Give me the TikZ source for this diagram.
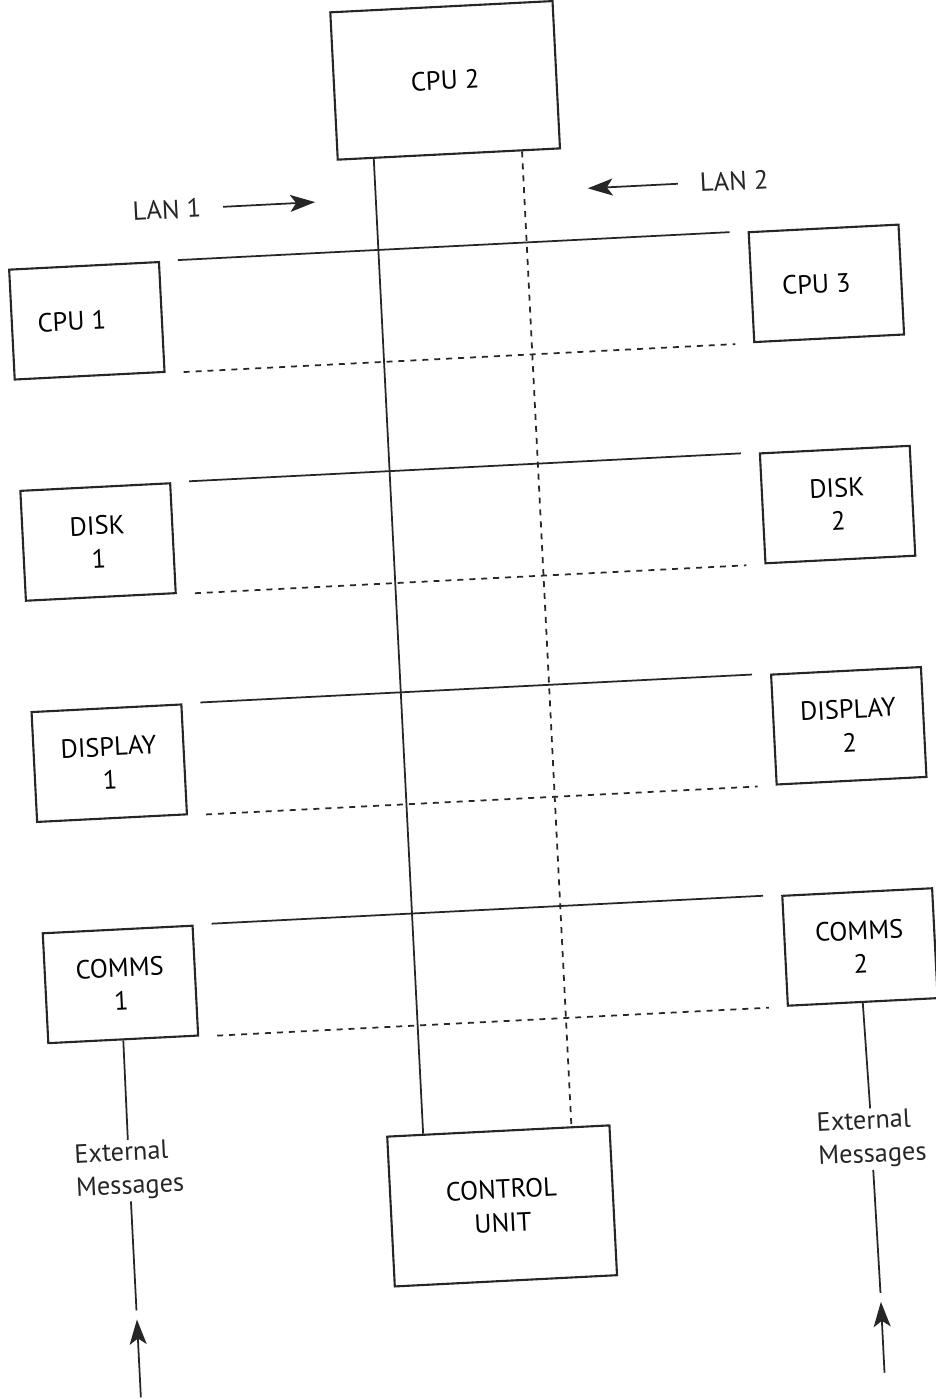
\documentclass[tikz,border=0pt]{standalone}
\usepackage{fontspec}
\setmainfont{PT Sans}
\usetikzlibrary{arrows.meta,calc}

\begin{document}
\begin{tikzpicture}[
  unit/.style={draw=black!85,line width=1.2pt,inner sep=0pt,align=center,minimum width=3cm,minimum height=2.2cm,font=\fontsize{15}{19}\selectfont},
  bigunit/.style={unit,minimum width=4.45cm,minimum height=2.95cm},
  lanA/.style={draw=black!85,line width=1pt},
  lanB/.style={lanA,dash pattern=on 3.4pt off 3.4pt},
  note/.style={font=\fontsize{15}{19}\selectfont,text=black!85,inner sep=1pt},
  pointer/.style={lanA,-{Stealth[length=5mm,width=3.4mm,inset=1.2mm]}},
]
\useasboundingbox (-9.36,-13.98) rectangle (9.34,14.0);

\begin{scope}[rotate=2.9,transform shape]
% central processor and control unit
\node[bigunit] (cpu2) at (0.17,12.4) {CPU 2};
\node[bigunit,minimum height=3cm] (ctrl) at (0.17,-10.14) {CONTROL\\UNIT};

% stations on both sides
\node[unit] (cpu1)   at (-7.23,7.96)  {CPU 1\hspace*{6mm}};
\node[unit] (disk1)  at (-7.23,3.53)  {DISK\\1};
\node[unit] (disp1)  at (-7.23,-0.90) {DISPLAY\\1};
\node[unit] (comms1) at (-7.23,-5.33) {COMMS\\1};
\node[unit] (cpu3)   at (7.58,7.96)   {CPU 3\hspace*{4mm}};
\node[unit] (disk2)  at (7.58,3.53)   {DISK\\2};
\node[unit] (disp2)  at (7.58,-0.90)  {DISPLAY\\2};
\node[unit] (comms2) at (7.58,-5.33)  {COMMS\\2};

% the two LAN trunks
\draw[lanA] ($(cpu2.south west)!0.165!(cpu2.south east)$) -- ($(ctrl.north west)!0.165!(ctrl.north east)$);
\draw[lanB] ($(cpu2.south west)!0.826!(cpu2.south east)$) -- ($(ctrl.north west)!0.826!(ctrl.north east)$);
\foreach \l/\r in {cpu1/cpu3,disk1/disk2,disp1/disp2,comms1/comms2} {
  \draw[lanA,shorten <=3.6mm,shorten >=3.6mm] (\l.north east) -- (\r.north west);
  \draw[lanB,shorten <=3.6mm,shorten >=3.6mm] (\l.south east) -- (\r.south west);
}

\node[note] (lan1) at (-5.52,10.1) {LAN 1};
\node[note] (lan2) at (5.84,10.1) {LAN 2};
\coordinate (lan1 tip) at (-2.55,10.1);
\coordinate (lan2 tip) at (2.91,10.1);
\draw[pointer,shorten <=4mm] (lan1) -- (lan1 tip);
\draw[pointer,shorten <=4mm] (lan2) -- (lan2 tip);

% incoming messages
\node[note,align=left] (ext1) at (-7.24,-9.06) {External\\Messages};
\node[note,align=left] (ext2) at (7.62,-9.18) {External\\Messages};
\coordinate (ext1 stop) at (-7.24,-11.86);
\coordinate (ext1 tip)  at (-7.24,-12.04);
\coordinate (ext1 in)   at (-7.24,-13.6);
\coordinate (ext2 stop) at (7.64,-12.26);
\coordinate (ext2 tip)  at (7.64,-12.44);
\coordinate (ext2 in)   at (7.64,-13.86);
\draw[lanA] (comms1.south) -- (ext1.north);
\draw[lanA] (ext1.south) -- (ext1 stop);
\draw[pointer] (ext1 in) -- (ext1 tip);
\draw[lanA] (comms2.south) -- (ext2.north);
\draw[lanA] (ext2.south) -- (ext2 stop);
\draw[pointer] (ext2 in) -- (ext2 tip);
\end{scope}
\end{tikzpicture}
\end{document}
